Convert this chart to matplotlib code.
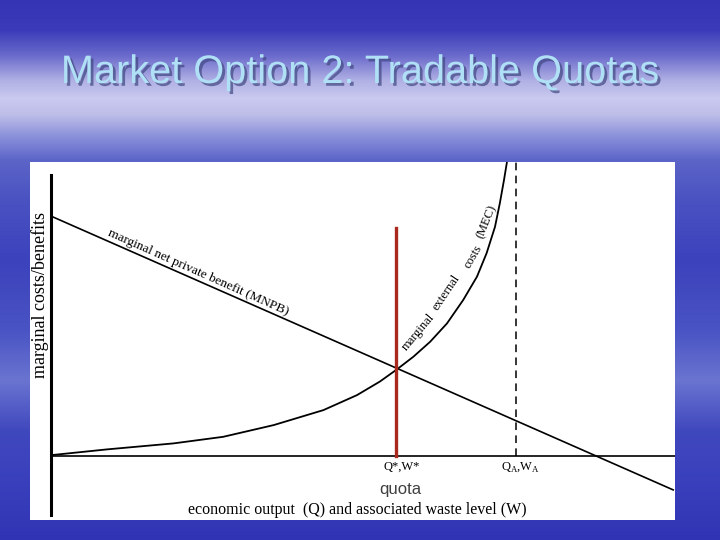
import numpy as np
import matplotlib.pyplot as plt
import matplotlib.patheffects as pe
from matplotlib.colors import to_rgb

plt.rcParams['mathtext.fontset'] = 'custom'
plt.rcParams['mathtext.rm'] = 'Liberation Serif'

title = "Market Option 2: Tradable Quotas"

# slide background: vertical colour stops (pixel row, colour)
bg_rows = [0, 30, 55, 80, 98, 115, 135, 160, 200, 260, 330, 380, 430, 480, 540]
bg_colors = ['#3434b4', '#3c3cba', '#6a6acc', '#b0b0e4', '#cacaf0', '#bcbce8',
             '#8c92da', '#5c64c8', '#4a52c2', '#3c42bc', '#4a54c4', '#6a74d0',
             '#4048be', '#3a40bc', '#3034b4']

# marginal net private benefit (straight line)
mnpb_q = [0.03, 10.37]
mnpb_v = [7.97, -1.13]

# marginal external cost curve
mec_q = [0.01, 0.93, 2.04, 2.87, 3.71, 4.54, 5.1, 5.48, 5.76, 6.04, 6.32,
         6.6, 6.87, 7.1, 7.26, 7.4, 7.48, 7.55, 7.6]
mec_v = [0.03, 0.22, 0.42, 0.64, 1.03, 1.53, 2.03, 2.48, 2.88, 3.31, 3.81,
         4.42, 5.2, 5.98, 6.76, 7.64, 8.42, 9.2, 9.81]

q_star = 5.75      # quota level
q_a = 7.75         # unregulated output
quota_top = 7.6

fig = plt.figure(figsize=(7.2, 5.4), dpi=100)

# background
bg = fig.add_axes([0, 0, 1, 1])
rows = np.arange(540)
rgb = np.array([to_rgb(c) for c in bg_colors])
grad = np.stack([np.interp(rows, bg_rows, rgb[:, k]) for k in range(3)], axis=-1)
bg.imshow(grad[:, None, :], aspect='auto', extent=[0, 720, 540, 0])
bg.set_xlim(0, 720)
bg.set_ylim(540, 0)
bg.axis('off')

bg.text(360, 72, title, ha='center', va='center', fontsize=28.6,
        family='Liberation Sans', color='#b0e0f6',
        path_effects=[pe.withSimplePatchShadow(offset=(2, -2),
                                               shadow_rgbFace='#404880',
                                               alpha=0.7)])

# chart panel
ax = fig.add_axes([30 / 720, 20 / 540, 645 / 720, 358 / 540])
ax.set_facecolor('white')
ax.set_xlim(-0.35, 10.4)
ax.set_ylim(-2.133, 9.8)
ax.set_xticks([])
ax.set_yticks([])
for s in ax.spines.values():
    s.set_visible(False)

ax.plot([0, 0], [9.37, -1.97], color='black', lw=2.2)
ax.plot([0, 10.4], [0, 0], color='black', lw=1.2)

ax.plot(mnpb_q, mnpb_v, color='black', lw=1.2)
ax.plot(mec_q, mec_v, color='black', lw=1.3, solid_joinstyle='round')
ax.plot([q_a, q_a], [0, 9.8], color='black', lw=1.1, dashes=(5, 3.5))
ax.plot([q_star, q_star], [0, quota_top], color='#a82a1e', lw=2.4)

serif = 'Liberation Serif'
ax.text(-0.18, 5.37, 'marginal costs/benefits', rotation=90, ha='center',
        va='center', fontsize=13, family=serif)
ax.text(2.45, 6.1, 'marginal net private benefit (MNPB)', rotation=-24,
        ha='center', va='center', fontsize=9.5, family=serif,
        rotation_mode='anchor')

# MEC label set word by word along the curve
mec_words = ['marginal', 'external', 'costs', '(MEC)']
mec_word_q = [6.12, 6.59, 7.04, 7.26]
mec_word_v = [4.13, 5.45, 6.64, 7.8]
mec_word_rot = [50, 56, 60, 68]
for w, wq, wv, r in zip(mec_words, mec_word_q, mec_word_v, mec_word_rot):
    ax.text(wq, wv, w, rotation=r, ha='center', va='center', fontsize=9,
            family=serif, rotation_mode='anchor')

ax.text(q_star + 0.1, -0.37, 'Q*,W*', ha='center', va='center', fontsize=9,
        family=serif)
ax.text(q_a + 0.08, -0.37, r'Q$_\mathrm{A}$,W$_\mathrm{A}$', ha='center',
        va='center', fontsize=9, family=serif)
ax.text(q_star + 0.08, -1.1, 'quota', ha='center', va='center', fontsize=12,
        family='Liberation Sans', color='#404040')
ax.text(5.1, -1.8, 'economic output  (Q) and associated waste level (W)',
        ha='center', va='center', fontsize=11.5, family=serif)

fig.savefig('out.png', dpi=100)
